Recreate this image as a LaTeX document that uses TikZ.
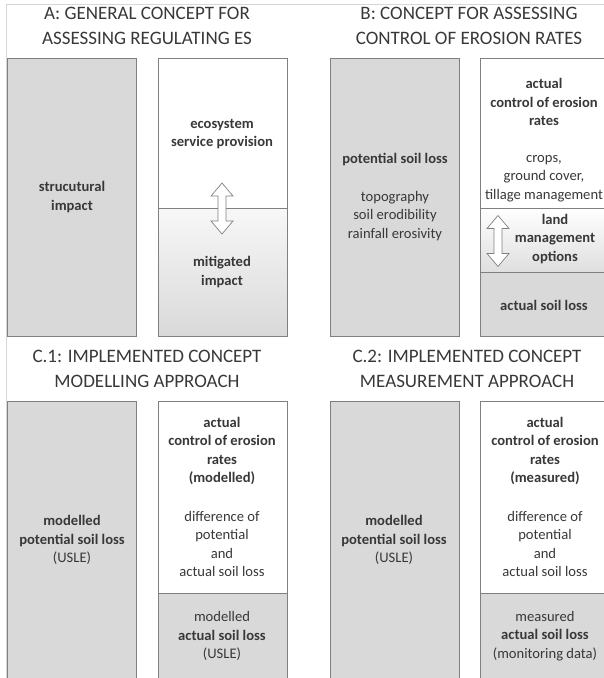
\documentclass[tikz,border=0pt]{standalone}
\usepackage{fontspec}
\setmainfont{Carlito}
\definecolor{boxgray}{HTML}{D9D9D9}
\definecolor{linegray}{HTML}{808080}
\definecolor{txtgray}{HTML}{383838}
\definecolor{framegray}{HTML}{D6D6D6}
\tikzset{
  dblarrow/.pic={\draw[arr] (0,-25.5) -- (11,-12.5) -- (4,-12.5) -- (4,12.5) -- (11,12.5)
    -- (0,25.5) -- (-11,12.5) -- (-4,12.5) -- (-4,-12.5) -- (-11,-12.5) -- cycle;}
}

\begin{document}
\begin{tikzpicture}[x=1pt,y=-1pt,
  box/.style={draw=linegray, line width=0.8pt},
  arr/.style={draw=linegray, fill=white, line width=0.7pt, line join=miter},
  title/.style={font=\fontsize{19}{25.5}\selectfont, text=txtgray, align=center, inner sep=0pt},
  lbl/.style={font=\fontsize{14.6}{18.5}\selectfont, text=txtgray, align=center, inner sep=0pt}]
\useasboundingbox (0,0) rectangle (604,678);
\clip (0,0) rectangle (604,678);
\draw[framegray, line width=0.8pt] (6,678) -- (6,4) -- (604,4);

% A: general concept
\node[title] (tA) at (147,26) {A: GENERAL CONCEPT FOR\\ASSESSING REGULATING ES};
\draw[box, fill=boxgray] (7,58) rectangle (136,336);
\shade[top color=gray!6, middle color=boxgray, bottom color=boxgray] (158,208) rectangle (287,336);
\draw[box] (158,58) rectangle (287,336);
\draw[box] (158,208) -- (287,208);
\pic at (222,208.5) {dblarrow};
\node[lbl] (strucImp) at (72,197) {\textbf{strucutural}\\\textbf{impact}};
\node[lbl] (esProv) at (222,134) {\textbf{ecosystem}\\\textbf{service provision}};
\node[lbl] (mitImp) at (222,272) {\textbf{mitigated}\\\textbf{impact}};

% B: control of erosion rates
\node[title] (tB) at (469,26) {B: CONCEPT FOR ASSESSING\\CONTROL OF EROSION RATES};
\draw[box, fill=boxgray] (330,58) rectangle (459,336);
\shade[top color=white, bottom color=boxgray!85] (480,208) rectangle (612,272);
\fill[boxgray] (480,272) rectangle (612,336);
\draw[box] (480,58) rectangle (612,336);
\draw[box] (480,208) -- (612,208) (480,272) -- (612,272);
\pic at (498,241) {dblarrow};
\node[lbl] (potLoss) at (395,160) {\textbf{potential soil loss}};
\node[lbl] (potFact) at (395,216) {topography\\soil erodibility\\rainfall erosivity};
\node[lbl] (actCtrl) at (544,102) {\textbf{actual}\\\textbf{control of erosion}\\\textbf{rates}};
\node[lbl] (ctrlFact) at (544,178.5) {crops,\\ground cover,\\tillage management};
\node[lbl] (landOpt) at (555,239) {\textbf{land}\\\textbf{management}\\\textbf{options}};
\node[lbl] (actLoss) at (544,305) {\textbf{actual soil loss}};

% C.1: modelling approach
\node[title] (tC1) at (147,369) {C.1: IMPLEMENTED CONCEPT\\MODELLING APPROACH};
\draw[box, fill=boxgray] (7,401) rectangle (136,690);
\fill[boxgray] (158,593) rectangle (287,690);
\draw[box] (158,401) rectangle (287,690);
\draw[box] (158,593) -- (287,593);
\node[lbl] (modPot) at (72,540) {\textbf{modelled}\\\textbf{potential soil loss}\\(USLE)};
\node[lbl] (modCtrl) at (222,451) {\textbf{actual}\\\textbf{control of erosion}\\\textbf{rates}\\\textbf{(modelled)}};
\node[lbl] (modDiff) at (222,544) {difference of\\potential\\and\\actual soil loss};
\node[lbl] (modAct) at (222,636) {modelled\\\textbf{actual soil loss}\\(USLE)};

% C.2: measurement approach
\node[title] (tC2) at (467,369) {C.2: IMPLEMENTED CONCEPT\\MEASUREMENT APPROACH};
\draw[box, fill=boxgray] (330,401) rectangle (459,690);
\fill[boxgray] (480,593) rectangle (612,690);
\draw[box] (480,401) rectangle (612,690);
\draw[box] (480,593) -- (612,593);
\node[lbl] (msPot) at (394,540) {\textbf{modelled}\\\textbf{potential soil loss}\\(USLE)};
\node[lbl] (msCtrl) at (545,451) {\textbf{actual}\\\textbf{control of erosion}\\\textbf{rates}\\\textbf{(measured)}};
\node[lbl] (msDiff) at (545,544) {difference of\\potential\\and\\actual soil loss};
\node[lbl] (msAct) at (545,636) {measured\\\textbf{actual soil loss}\\(monitoring data)};
\end{tikzpicture}
\end{document}
